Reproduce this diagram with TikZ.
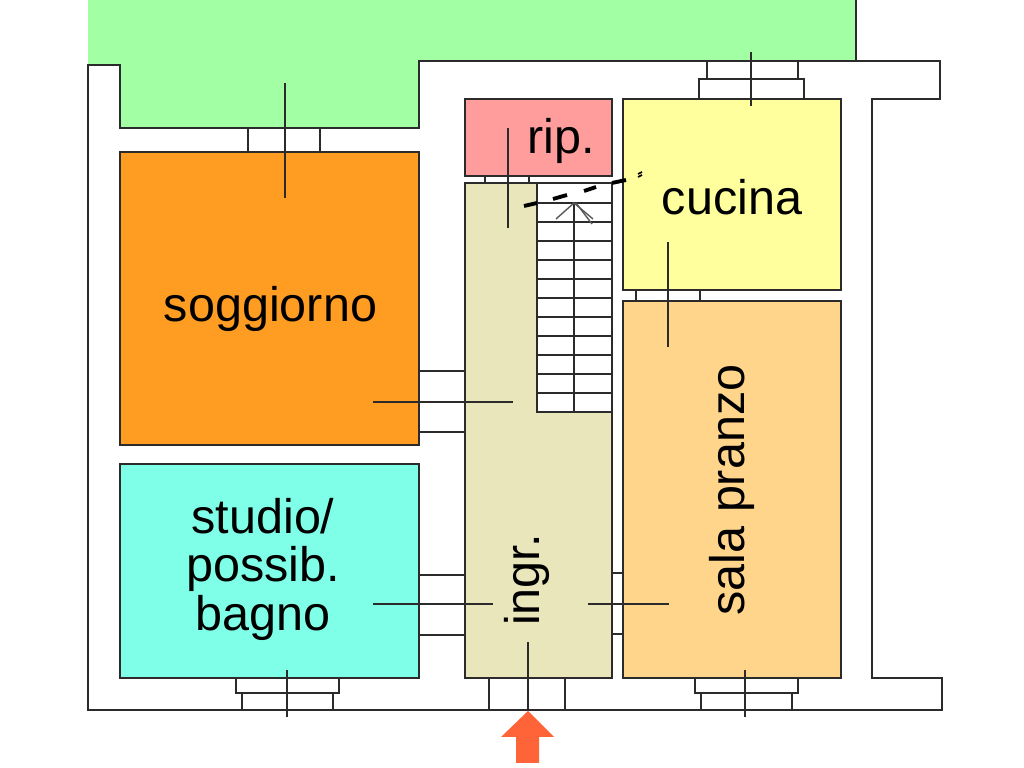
\documentclass[tikz,border=0pt]{standalone}
\usepackage{fontspec}
\setmainfont{Liberation Sans}
\definecolor{cGarden}{HTML}{A3FFA3}
\definecolor{cLiving}{HTML}{FF9C22}
\definecolor{cStudy}{HTML}{80FFE8}
\definecolor{cStore}{HTML}{FF9C9C}
\definecolor{cKitchen}{HTML}{FFFF9E}
\definecolor{cDining}{HTML}{FFD58C}
\definecolor{cHall}{HTML}{E8E6BA}
\definecolor{cEntry}{HTML}{FF6438}
\definecolor{cWall}{HTML}{2B2B2B}
\begin{document}
\begin{tikzpicture}[x=0.01cm,y=-0.01cm,line join=miter,
wall/.style={draw=cWall,line width=0.75pt},
room/.style={wall},
axisline/.style={draw=cWall,line width=0.6pt},
breakline/.style={draw=black,line width=1.1pt},
stairmark/.style={draw=black!65,line width=0.4pt},
roomlabel/.style={font=\fontsize{13.8}{13.8}\selectfont,inner sep=0pt,align=center,text=black}
]
\useasboundingbox (0,0) rectangle (1024,768);
% garden
\fill[cGarden] (88,0) -- (856,0) -- (856,61) -- (419,61) -- (419,128) -- (120,128) -- (120,65) -- (88,65) -- cycle;
% outer wall
\draw[wall] (856,0) -- (856,61);
\draw[wall] (88,65) -- (120,65) -- (120,128) -- (419,128) -- (419,61) -- (940,61) -- (940,99) -- (872,99) -- (872,678) -- (942,678) -- (942,710) -- (88,710) -- cycle;
% rooms
\draw[room,fill=cLiving] (120,152) rectangle (419,445);
\draw[room,fill=cStudy] (120,464) rectangle (419,678);
\draw[room,fill=cStore] (465,99) rectangle (612,176);
\draw[room,fill=cKitchen] (623,99) rectangle (841,290);
\draw[room,fill=cDining] (623,301) rectangle (841,678);
\draw[room,fill=cHall] (465,183) -- (537,183) -- (537,412) -- (612,412) -- (612,678) -- (465,678) -- cycle;
% stairs
\draw[wall] (537,183) -- (612,183) -- (612,412);
\draw[wall] (574,203) -- (574,412);
\foreach \yy in {203,222,241,260,279,298,317,336,355,374,393}
    \draw[wall] (537,\yy) -- (612,\yy);
\draw[stairmark] (574,203) -- (556,219);
\draw[stairmark] (574,203) -- (593,219);
\draw[stairmark] (576,203) -- (592,224);
% openings
\draw[wall] (248,128) -- (248,152);
\draw[wall] (320,128) -- (320,152);
\draw[wall] (419,371) -- (465,371);
\draw[wall] (419,432) -- (465,432);
\draw[wall] (419,575) -- (465,575);
\draw[wall] (419,635) -- (465,635);
\draw[wall] (612,573) -- (623,573);
\draw[wall] (612,634) -- (623,634);
\draw[wall] (485,176) -- (485,183);
\draw[wall] (529,176) -- (529,183);
\draw[wall] (636,290) -- (636,301);
\draw[wall] (700,290) -- (700,301);
\draw[wall] (489,678) -- (489,710);
\draw[wall] (565,678) -- (565,710);
% windows
\draw[wall] (236,678) -- (236,693) -- (339,693) -- (339,678);
\draw[wall] (242,693) -- (242,710);
\draw[wall] (333,693) -- (333,710);
\draw[wall] (695,678) -- (695,693) -- (798,693) -- (798,678);
\draw[wall] (701,693) -- (701,710);
\draw[wall] (792,693) -- (792,710);
\draw[wall] (707,61) -- (707,79);
\draw[wall] (798,61) -- (798,79);
\draw[wall] (699,99) -- (699,79) -- (804,79) -- (804,99);
% axis lines
\draw[axisline] (285,83) -- (285,198);
\draw[axisline] (373,402) -- (513,402);
\draw[axisline] (373,604) -- (493,604);
\draw[axisline] (588,604) -- (669,604);
\draw[axisline] (528,642) -- (528,710);
\draw[axisline] (287,670) -- (287,717);
\draw[axisline] (745,670) -- (745,717);
\draw[axisline] (751,52) -- (751,106);
\draw[axisline] (668,242) -- (668,347);
\draw[axisline] (508,128) -- (508,228);
% section cut
\draw[breakline] (524,206) -- (537,203);
\draw[breakline] (553,199) -- (567,195);
\draw[breakline] (584,191) -- (596,187);
\draw[breakline] (612,183) -- (626,180);
\draw[breakline,line width=0.5pt] (638,177) -- (642,175);
\draw[breakline,line width=0.5pt] (638,174) -- (642,172);
% entrance arrow
\fill[cEntry] (528,711) -- (554,737) -- (539,737) -- (539,763) -- (516,763) -- (516,737) -- (501,737) -- cycle;
% labels
\node[roomlabel] (Lliving) at (270.5,309) {soggiorno};
\node[roomlabel] (Lkitchen) at (732,197) {cucina};
\node[roomlabel] (Lstore) at (561.5,141) {rip.};
\node[roomlabel] (Lstudy) at (263,569) {studio/\\possib.\\bagno};
\node[roomlabel,rotate=90] (Lhall) at (527,580) {ingr.};
\node[roomlabel,rotate=90] (Ldining) at (732,490) {sala pranzo};
\end{tikzpicture}
\end{document}
